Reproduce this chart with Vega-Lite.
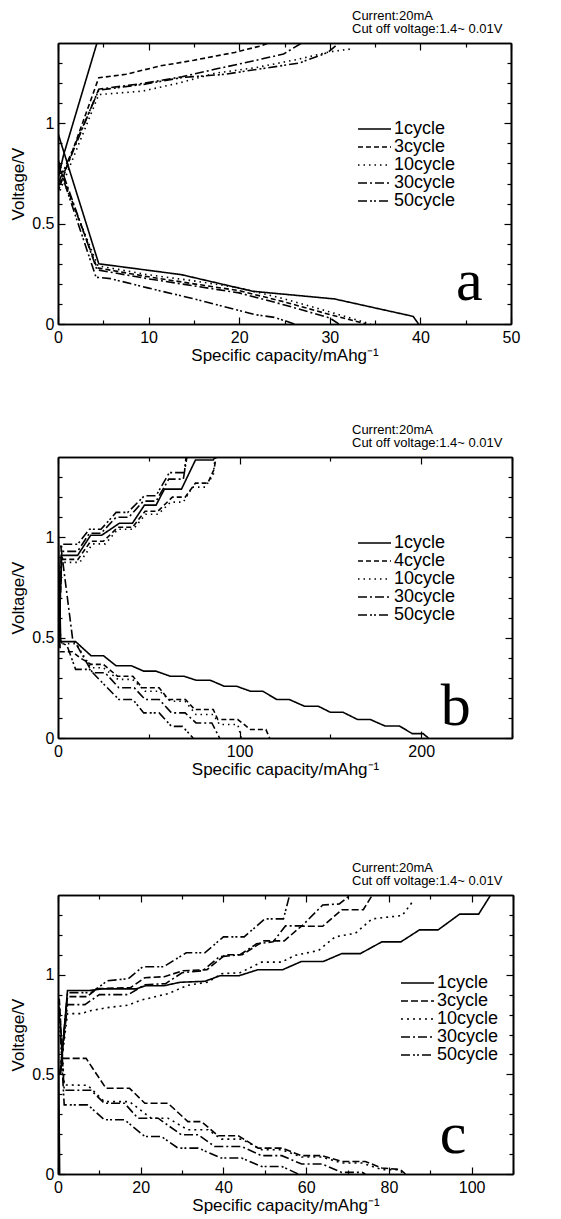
{
  "$schema": "https://vega.github.io/schema/vega-lite/v6.json",
  "padding": {"left": 9, "top": 10, "right": 5, "bottom": 5},
  "background": "white",
  "config": {
    "view": {"stroke": null},
    "axis": {"grid": false, "domainColor": "black", "domainWidth": 1.6, "tickColor": "black", "tickWidth": 1.2, "labelColor": "black", "labelFont": "Liberation Sans", "labelFontSize": 16, "titleFont": "Liberation Sans", "titleFontSize": 17, "titleFontWeight": "normal", "titleColor": "black", "labelFlush": false, "labelOverlap": false},
    "title": {"font": "Liberation Sans", "fontSize": 13, "fontWeight": "normal", "color": "black", "anchor": "start", "dx": 296, "lineHeight": 13, "offset": 6, "frame": "group"},
    "legend": {"orient": "none", "title": null, "symbolType": "stroke", "symbolSize": 1089, "symbolStrokeWidth": 1.6, "symbolStrokeColor": "black", "labelFontSize": 18, "labelFont": "Liberation Sans", "labelColor": "black", "labelOffset": 2, "rowPadding": 0, "clipHeight": 18, "padding": 0}
  },
  "resolve": {"scale": {"strokeDash": "independent"}, "legend": {"strokeDash": "independent"}},
  "datasets": {
    "a": [
      {"c":"1cycle","b":"d","x":0,"y":0.95},{"c":"1cycle","b":"d","x":4.5,"y":0.30},{"c":"1cycle","b":"d","x":13.6,"y":0.246},{"c":"1cycle","b":"d","x":21.5,"y":0.163},{"c":"1cycle","b":"d","x":30.5,"y":0.125},{"c":"1cycle","b":"d","x":39.2,"y":0.038},{"c":"1cycle","b":"d","x":39.8,"y":0},
      {"c":"1cycle","b":"c","x":0,"y":0.72},{"c":"1cycle","b":"c","x":0.6,"y":0.84},{"c":"1cycle","b":"c","x":4.3,"y":1.4},
      {"c":"3cycle","b":"d","x":0,"y":0.80},{"c":"3cycle","b":"d","x":4.3,"y":0.28},{"c":"3cycle","b":"d","x":10,"y":0.235},{"c":"3cycle","b":"d","x":15,"y":0.20},{"c":"3cycle","b":"d","x":20,"y":0.166},{"c":"3cycle","b":"d","x":25,"y":0.11},{"c":"3cycle","b":"d","x":30,"y":0.047},{"c":"3cycle","b":"d","x":34,"y":0},
      {"c":"3cycle","b":"c","x":0,"y":0.66},{"c":"3cycle","b":"c","x":4.5,"y":1.227},{"c":"3cycle","b":"c","x":7.5,"y":1.244},{"c":"3cycle","b":"c","x":11.3,"y":1.286},{"c":"3cycle","b":"c","x":15,"y":1.314},{"c":"3cycle","b":"c","x":19.5,"y":1.353},{"c":"3cycle","b":"c","x":22.5,"y":1.387},{"c":"3cycle","b":"c","x":23.2,"y":1.4},
      {"c":"10cycle","b":"d","x":0,"y":0.78},{"c":"10cycle","b":"d","x":4.4,"y":0.29},{"c":"10cycle","b":"d","x":10,"y":0.245},{"c":"10cycle","b":"d","x":15,"y":0.215},{"c":"10cycle","b":"d","x":20,"y":0.18},{"c":"10cycle","b":"d","x":25,"y":0.125},{"c":"10cycle","b":"d","x":30,"y":0.06},{"c":"10cycle","b":"d","x":34.5,"y":0},
      {"c":"10cycle","b":"c","x":0,"y":0.64},{"c":"10cycle","b":"c","x":4.5,"y":1.143},{"c":"10cycle","b":"c","x":9.3,"y":1.16},{"c":"10cycle","b":"c","x":13.3,"y":1.2},{"c":"10cycle","b":"c","x":17.4,"y":1.25},{"c":"10cycle","b":"c","x":21.8,"y":1.277},{"c":"10cycle","b":"c","x":26.6,"y":1.32},{"c":"10cycle","b":"c","x":30,"y":1.356},{"c":"10cycle","b":"c","x":32.3,"y":1.37},
      {"c":"30cycle","b":"d","x":0,"y":0.82},{"c":"30cycle","b":"d","x":4.3,"y":0.27},{"c":"30cycle","b":"d","x":10,"y":0.225},{"c":"30cycle","b":"d","x":15,"y":0.19},{"c":"30cycle","b":"d","x":20,"y":0.155},{"c":"30cycle","b":"d","x":25,"y":0.095},{"c":"30cycle","b":"d","x":30,"y":0.03},{"c":"30cycle","b":"d","x":31,"y":0},
      {"c":"30cycle","b":"c","x":0,"y":0.68},{"c":"30cycle","b":"c","x":4.5,"y":1.17},{"c":"30cycle","b":"c","x":9.6,"y":1.2},{"c":"30cycle","b":"c","x":13.7,"y":1.232},{"c":"30cycle","b":"c","x":17.4,"y":1.27},{"c":"30cycle","b":"c","x":21.5,"y":1.31},{"c":"30cycle","b":"c","x":24.9,"y":1.345},{"c":"30cycle","b":"c","x":26.9,"y":1.4},
      {"c":"50cycle","b":"d","x":0,"y":0.80},{"c":"50cycle","b":"d","x":4.2,"y":0.233},{"c":"50cycle","b":"d","x":5.8,"y":0.226},{"c":"50cycle","b":"d","x":9.9,"y":0.18},{"c":"50cycle","b":"d","x":15.4,"y":0.121},{"c":"50cycle","b":"d","x":21.7,"y":0.047},{"c":"50cycle","b":"d","x":23.9,"y":0.033},{"c":"50cycle","b":"d","x":26.1,"y":0},
      {"c":"50cycle","b":"c","x":0,"y":0.70},{"c":"50cycle","b":"c","x":4.5,"y":1.165},{"c":"50cycle","b":"c","x":9.6,"y":1.195},{"c":"50cycle","b":"c","x":13.7,"y":1.228},{"c":"50cycle","b":"c","x":18.4,"y":1.244},{"c":"50cycle","b":"c","x":23.2,"y":1.277},{"c":"50cycle","b":"c","x":26.6,"y":1.30},{"c":"50cycle","b":"c","x":29.8,"y":1.353},{"c":"50cycle","b":"c","x":31,"y":1.4}
    ],
    "b": [
      {"c":"1cycle","b":"d","x":0,"y":1.08},{"c":"1cycle","b":"d","x":1.5,"y":0.48},{"c":"1cycle","b":"d","x":9.7,"y":0.48},{"c":"1cycle","b":"d","x":18.2,"y":0.41},{"c":"1cycle","b":"d","x":25,"y":0.41},{"c":"1cycle","b":"d","x":32,"y":0.36},{"c":"1cycle","b":"d","x":40.4,"y":0.36},{"c":"1cycle","b":"d","x":47.2,"y":0.333},{"c":"1cycle","b":"d","x":54,"y":0.333},{"c":"1cycle","b":"d","x":61.7,"y":0.308},{"c":"1cycle","b":"d","x":69.3,"y":0.308},{"c":"1cycle","b":"d","x":76,"y":0.288},{"c":"1cycle","b":"d","x":83.8,"y":0.288},{"c":"1cycle","b":"d","x":91.5,"y":0.258},{"c":"1cycle","b":"d","x":98.3,"y":0.258},{"c":"1cycle","b":"d","x":106,"y":0.233},{"c":"1cycle","b":"d","x":112.8,"y":0.233},{"c":"1cycle","b":"d","x":120.4,"y":0.192},{"c":"1cycle","b":"d","x":127.3,"y":0.192},{"c":"1cycle","b":"d","x":135.8,"y":0.158},{"c":"1cycle","b":"d","x":143.4,"y":0.158},{"c":"1cycle","b":"d","x":150,"y":0.128},{"c":"1cycle","b":"d","x":157,"y":0.128},{"c":"1cycle","b":"d","x":165,"y":0.092},{"c":"1cycle","b":"d","x":172,"y":0.092},{"c":"1cycle","b":"d","x":180,"y":0.06},{"c":"1cycle","b":"d","x":188,"y":0.06},{"c":"1cycle","b":"d","x":195,"y":0.022},{"c":"1cycle","b":"d","x":201,"y":0.022},{"c":"1cycle","b":"d","x":204,"y":0},
      {"c":"1cycle","b":"c","x":0.3,"y":0.45},{"c":"1cycle","b":"c","x":2,"y":0.91},{"c":"1cycle","b":"c","x":10.8,"y":0.91},{"c":"1cycle","b":"c","x":18,"y":1.01},{"c":"1cycle","b":"c","x":24,"y":1.01},{"c":"1cycle","b":"c","x":33.8,"y":1.07},{"c":"1cycle","b":"c","x":41,"y":1.07},{"c":"1cycle","b":"c","x":47.6,"y":1.16},{"c":"1cycle","b":"c","x":54,"y":1.16},{"c":"1cycle","b":"c","x":58.6,"y":1.24},{"c":"1cycle","b":"c","x":68,"y":1.24},{"c":"1cycle","b":"c","x":75.7,"y":1.385},{"c":"1cycle","b":"c","x":85.5,"y":1.385},{"c":"1cycle","b":"c","x":86.5,"y":1.4},
      {"c":"4cycle","b":"d","x":0,"y":0.95},{"c":"4cycle","b":"d","x":1.2,"y":0.43},{"c":"4cycle","b":"d","x":8,"y":0.43},{"c":"4cycle","b":"d","x":12,"y":0.40},{"c":"4cycle","b":"d","x":18.2,"y":0.367},{"c":"4cycle","b":"d","x":25,"y":0.367},{"c":"4cycle","b":"d","x":32.7,"y":0.308},{"c":"4cycle","b":"d","x":41.2,"y":0.308},{"c":"4cycle","b":"d","x":46.3,"y":0.25},{"c":"4cycle","b":"d","x":55.7,"y":0.25},{"c":"4cycle","b":"d","x":60.8,"y":0.192},{"c":"4cycle","b":"d","x":70.2,"y":0.192},{"c":"4cycle","b":"d","x":75.3,"y":0.142},{"c":"4cycle","b":"d","x":85.5,"y":0.142},{"c":"4cycle","b":"d","x":88,"y":0.092},{"c":"4cycle","b":"d","x":99,"y":0.092},{"c":"4cycle","b":"d","x":106,"y":0.042},{"c":"4cycle","b":"d","x":114.5,"y":0.042},{"c":"4cycle","b":"d","x":116.5,"y":0},
      {"c":"4cycle","b":"c","x":0.3,"y":0.45},{"c":"4cycle","b":"c","x":2,"y":0.89},{"c":"4cycle","b":"c","x":11,"y":0.89},{"c":"4cycle","b":"c","x":18,"y":0.98},{"c":"4cycle","b":"c","x":25,"y":0.98},{"c":"4cycle","b":"c","x":33,"y":1.05},{"c":"4cycle","b":"c","x":41,"y":1.05},{"c":"4cycle","b":"c","x":48,"y":1.13},{"c":"4cycle","b":"c","x":55,"y":1.13},{"c":"4cycle","b":"c","x":63,"y":1.2},{"c":"4cycle","b":"c","x":70,"y":1.2},{"c":"4cycle","b":"c","x":75.7,"y":1.27},{"c":"4cycle","b":"c","x":82.5,"y":1.27},{"c":"4cycle","b":"c","x":86,"y":1.34},{"c":"4cycle","b":"c","x":87,"y":1.4},
      {"c":"10cycle","b":"d","x":0,"y":0.9},{"c":"10cycle","b":"d","x":1.5,"y":0.47},{"c":"10cycle","b":"d","x":10,"y":0.47},{"c":"10cycle","b":"d","x":18.2,"y":0.35},{"c":"10cycle","b":"d","x":25,"y":0.35},{"c":"10cycle","b":"d","x":33,"y":0.292},{"c":"10cycle","b":"d","x":41,"y":0.292},{"c":"10cycle","b":"d","x":48,"y":0.233},{"c":"10cycle","b":"d","x":56,"y":0.233},{"c":"10cycle","b":"d","x":62,"y":0.183},{"c":"10cycle","b":"d","x":70,"y":0.183},{"c":"10cycle","b":"d","x":76,"y":0.117},{"c":"10cycle","b":"d","x":85.5,"y":0.117},{"c":"10cycle","b":"d","x":89,"y":0.067},{"c":"10cycle","b":"d","x":99,"y":0.067},{"c":"10cycle","b":"d","x":101,"y":0},
      {"c":"10cycle","b":"c","x":0.3,"y":0.45},{"c":"10cycle","b":"c","x":2,"y":0.875},{"c":"10cycle","b":"c","x":12,"y":0.875},{"c":"10cycle","b":"c","x":19,"y":0.967},{"c":"10cycle","b":"c","x":26,"y":0.967},{"c":"10cycle","b":"c","x":33,"y":1.04},{"c":"10cycle","b":"c","x":41.4,"y":1.04},{"c":"10cycle","b":"c","x":48.3,"y":1.115},{"c":"10cycle","b":"c","x":55.1,"y":1.115},{"c":"10cycle","b":"c","x":62,"y":1.175},{"c":"10cycle","b":"c","x":69,"y":1.175},{"c":"10cycle","b":"c","x":74,"y":1.25},{"c":"10cycle","b":"c","x":81,"y":1.25},{"c":"10cycle","b":"c","x":85.5,"y":1.31},{"c":"10cycle","b":"c","x":86.5,"y":1.4},
      {"c":"30cycle","b":"d","x":1.5,"y":0.96},{"c":"30cycle","b":"d","x":8.1,"y":0.49},{"c":"30cycle","b":"d","x":10.5,"y":0.46},{"c":"30cycle","b":"d","x":19,"y":0.325},{"c":"30cycle","b":"d","x":26,"y":0.325},{"c":"30cycle","b":"d","x":33.5,"y":0.25},{"c":"30cycle","b":"d","x":42,"y":0.25},{"c":"30cycle","b":"d","x":48,"y":0.192},{"c":"30cycle","b":"d","x":55.7,"y":0.192},{"c":"30cycle","b":"d","x":62.5,"y":0.125},{"c":"30cycle","b":"d","x":70,"y":0.125},{"c":"30cycle","b":"d","x":76,"y":0.075},{"c":"30cycle","b":"d","x":84.7,"y":0.075},{"c":"30cycle","b":"d","x":89,"y":0},
      {"c":"30cycle","b":"c","x":0.3,"y":0.45},{"c":"30cycle","b":"c","x":2,"y":0.93},{"c":"30cycle","b":"c","x":10.8,"y":0.93},{"c":"30cycle","b":"c","x":17.3,"y":1.02},{"c":"30cycle","b":"c","x":23.7,"y":1.02},{"c":"30cycle","b":"c","x":32,"y":1.10},{"c":"30cycle","b":"c","x":39,"y":1.10},{"c":"30cycle","b":"c","x":47,"y":1.18},{"c":"30cycle","b":"c","x":54,"y":1.18},{"c":"30cycle","b":"c","x":61,"y":1.29},{"c":"30cycle","b":"c","x":69,"y":1.29},{"c":"30cycle","b":"c","x":71,"y":1.4},
      {"c":"50cycle","b":"d","x":0,"y":0.85},{"c":"50cycle","b":"d","x":1,"y":0.48},{"c":"50cycle","b":"d","x":5,"y":0.46},{"c":"50cycle","b":"d","x":9.7,"y":0.342},{"c":"50cycle","b":"d","x":17.4,"y":0.342},{"c":"50cycle","b":"d","x":25,"y":0.27},{"c":"50cycle","b":"d","x":33.5,"y":0.192},{"c":"50cycle","b":"d","x":41.2,"y":0.192},{"c":"50cycle","b":"d","x":47.2,"y":0.125},{"c":"50cycle","b":"d","x":55.7,"y":0.125},{"c":"50cycle","b":"d","x":62.5,"y":0.058},{"c":"50cycle","b":"d","x":68.5,"y":0.058},{"c":"50cycle","b":"d","x":74.4,"y":0},
      {"c":"50cycle","b":"c","x":0.3,"y":0.45},{"c":"50cycle","b":"c","x":2,"y":0.965},{"c":"50cycle","b":"c","x":10.8,"y":0.965},{"c":"50cycle","b":"c","x":17.3,"y":1.04},{"c":"50cycle","b":"c","x":23.7,"y":1.04},{"c":"50cycle","b":"c","x":32,"y":1.124},{"c":"50cycle","b":"c","x":38.4,"y":1.124},{"c":"50cycle","b":"c","x":47.6,"y":1.207},{"c":"50cycle","b":"c","x":54,"y":1.207},{"c":"50cycle","b":"c","x":61.3,"y":1.322},{"c":"50cycle","b":"c","x":69.6,"y":1.322},{"c":"50cycle","b":"c","x":70.5,"y":1.4}
    ],
    "c": [
      {"c":"1cycle","b":"d","x":0,"y":0.9},{"c":"1cycle","b":"d","x":0.4,"y":0},
      {"c":"1cycle","b":"c","x":0.6,"y":0.5},{"c":"1cycle","b":"c","x":2.3,"y":0.921},{"c":"1cycle","b":"c","x":7.7,"y":0.921},{"c":"1cycle","b":"c","x":10.7,"y":0.929},{"c":"1cycle","b":"c","x":18.9,"y":0.929},{"c":"1cycle","b":"c","x":21.2,"y":0.945},{"c":"1cycle","b":"c","x":25.7,"y":0.945},{"c":"1cycle","b":"c","x":29.5,"y":0.962},{"c":"1cycle","b":"c","x":35.5,"y":0.967},{"c":"1cycle","b":"c","x":39.2,"y":0.995},{"c":"1cycle","b":"c","x":43.8,"y":0.995},{"c":"1cycle","b":"c","x":48.3,"y":1.025},{"c":"1cycle","b":"c","x":54.3,"y":1.025},{"c":"1cycle","b":"c","x":58.8,"y":1.066},{"c":"1cycle","b":"c","x":64.1,"y":1.066},{"c":"1cycle","b":"c","x":68.6,"y":1.106},{"c":"1cycle","b":"c","x":73.1,"y":1.106},{"c":"1cycle","b":"c","x":78.3,"y":1.165},{"c":"1cycle","b":"c","x":82.9,"y":1.165},{"c":"1cycle","b":"c","x":87.4,"y":1.225},{"c":"1cycle","b":"c","x":91.9,"y":1.225},{"c":"1cycle","b":"c","x":97.1,"y":1.304},{"c":"1cycle","b":"c","x":101.7,"y":1.304},{"c":"1cycle","b":"c","x":104.6,"y":1.4},
      {"c":"3cycle","b":"d","x":0.3,"y":0.88},{"c":"3cycle","b":"d","x":1.1,"y":0.58},{"c":"3cycle","b":"d","x":6.8,"y":0.58},{"c":"3cycle","b":"d","x":11.6,"y":0.43},{"c":"3cycle","b":"d","x":17.3,"y":0.43},{"c":"3cycle","b":"d","x":21,"y":0.355},{"c":"3cycle","b":"d","x":26.6,"y":0.355},{"c":"3cycle","b":"d","x":31.4,"y":0.263},{"c":"3cycle","b":"d","x":34.7,"y":0.263},{"c":"3cycle","b":"d","x":38.7,"y":0.192},{"c":"3cycle","b":"d","x":43.6,"y":0.192},{"c":"3cycle","b":"d","x":48.4,"y":0.13},{"c":"3cycle","b":"d","x":54.1,"y":0.13},{"c":"3cycle","b":"d","x":58.9,"y":0.092},{"c":"3cycle","b":"d","x":63.8,"y":0.092},{"c":"3cycle","b":"d","x":68.6,"y":0.063},{"c":"3cycle","b":"d","x":74.3,"y":0.063},{"c":"3cycle","b":"d","x":78.3,"y":0.03},{"c":"3cycle","b":"d","x":82.8,"y":0.022},{"c":"3cycle","b":"d","x":84,"y":0},
      {"c":"3cycle","b":"c","x":0.5,"y":0.5},{"c":"3cycle","b":"c","x":2.3,"y":0.89},{"c":"3cycle","b":"c","x":7,"y":0.89},{"c":"3cycle","b":"c","x":9.5,"y":0.93},{"c":"3cycle","b":"c","x":17.5,"y":0.935},{"c":"3cycle","b":"c","x":21,"y":0.985},{"c":"3cycle","b":"c","x":25.7,"y":0.99},{"c":"3cycle","b":"c","x":30.2,"y":1.02},{"c":"3cycle","b":"c","x":36,"y":1.025},{"c":"3cycle","b":"c","x":40.4,"y":1.1},{"c":"3cycle","b":"c","x":44.5,"y":1.1},{"c":"3cycle","b":"c","x":49.8,"y":1.17},{"c":"3cycle","b":"c","x":54.7,"y":1.17},{"c":"3cycle","b":"c","x":58.8,"y":1.243},{"c":"3cycle","b":"c","x":64,"y":1.243},{"c":"3cycle","b":"c","x":68.6,"y":1.326},{"c":"3cycle","b":"c","x":73.8,"y":1.326},{"c":"3cycle","b":"c","x":76,"y":1.4},
      {"c":"10cycle","b":"d","x":0.3,"y":0.86},{"c":"10cycle","b":"d","x":1.5,"y":0.447},{"c":"10cycle","b":"d","x":7.2,"y":0.445},{"c":"10cycle","b":"d","x":11.2,"y":0.363},{"c":"10cycle","b":"d","x":17.3,"y":0.363},{"c":"10cycle","b":"d","x":22.5,"y":0.28},{"c":"10cycle","b":"d","x":26.6,"y":0.28},{"c":"10cycle","b":"d","x":31.4,"y":0.222},{"c":"10cycle","b":"d","x":36.3,"y":0.222},{"c":"10cycle","b":"d","x":39.5,"y":0.175},{"c":"10cycle","b":"d","x":44.4,"y":0.175},{"c":"10cycle","b":"d","x":49.2,"y":0.122},{"c":"10cycle","b":"d","x":54.1,"y":0.122},{"c":"10cycle","b":"d","x":58.9,"y":0.085},{"c":"10cycle","b":"d","x":63.8,"y":0.085},{"c":"10cycle","b":"d","x":68.6,"y":0.055},{"c":"10cycle","b":"d","x":73.5,"y":0.055},{"c":"10cycle","b":"d","x":78.3,"y":0.022},{"c":"10cycle","b":"d","x":82.4,"y":0.022},{"c":"10cycle","b":"d","x":83.6,"y":0},
      {"c":"10cycle","b":"c","x":0.5,"y":0.5},{"c":"10cycle","b":"c","x":2.3,"y":0.805},{"c":"10cycle","b":"c","x":5.6,"y":0.805},{"c":"10cycle","b":"c","x":8,"y":0.82},{"c":"10cycle","b":"c","x":12,"y":0.835},{"c":"10cycle","b":"c","x":16.9,"y":0.847},{"c":"10cycle","b":"c","x":20,"y":0.872},{"c":"10cycle","b":"c","x":26.6,"y":0.905},{"c":"10cycle","b":"c","x":31.4,"y":0.947},{"c":"10cycle","b":"c","x":36.3,"y":0.963},{"c":"10cycle","b":"c","x":39.5,"y":1.005},{"c":"10cycle","b":"c","x":44,"y":1.01},{"c":"10cycle","b":"c","x":49.2,"y":1.063},{"c":"10cycle","b":"c","x":54,"y":1.063},{"c":"10cycle","b":"c","x":57.3,"y":1.097},{"c":"10cycle","b":"c","x":63,"y":1.122},{"c":"10cycle","b":"c","x":67,"y":1.19},{"c":"10cycle","b":"c","x":71.9,"y":1.208},{"c":"10cycle","b":"c","x":75.9,"y":1.28},{"c":"10cycle","b":"c","x":83.2,"y":1.297},{"c":"10cycle","b":"c","x":85.6,"y":1.363},
      {"c":"30cycle","b":"d","x":0.3,"y":0.84},{"c":"30cycle","b":"d","x":1.5,"y":0.42},{"c":"30cycle","b":"d","x":8,"y":0.42},{"c":"30cycle","b":"d","x":11.2,"y":0.355},{"c":"30cycle","b":"d","x":16.1,"y":0.355},{"c":"30cycle","b":"d","x":19.3,"y":0.28},{"c":"30cycle","b":"d","x":24.2,"y":0.28},{"c":"30cycle","b":"d","x":29.8,"y":0.197},{"c":"30cycle","b":"d","x":33.9,"y":0.197},{"c":"30cycle","b":"d","x":37.9,"y":0.138},{"c":"30cycle","b":"d","x":44.4,"y":0.138},{"c":"30cycle","b":"d","x":49.2,"y":0.092},{"c":"30cycle","b":"d","x":54.1,"y":0.092},{"c":"30cycle","b":"d","x":58.9,"y":0.05},{"c":"30cycle","b":"d","x":63.8,"y":0.05},{"c":"30cycle","b":"d","x":68.6,"y":0.008},{"c":"30cycle","b":"d","x":73.5,"y":0.008},{"c":"30cycle","b":"d","x":74.3,"y":0},
      {"c":"30cycle","b":"c","x":0.5,"y":0.5},{"c":"30cycle","b":"c","x":2.3,"y":0.85},{"c":"30cycle","b":"c","x":6.5,"y":0.85},{"c":"30cycle","b":"c","x":10,"y":0.9},{"c":"30cycle","b":"c","x":17,"y":0.9},{"c":"30cycle","b":"c","x":21,"y":0.95},{"c":"30cycle","b":"c","x":26,"y":0.955},{"c":"30cycle","b":"c","x":30,"y":1.01},{"c":"30cycle","b":"c","x":35,"y":1.02},{"c":"30cycle","b":"c","x":39,"y":1.09},{"c":"30cycle","b":"c","x":44,"y":1.1},{"c":"30cycle","b":"c","x":48,"y":1.155},{"c":"30cycle","b":"c","x":52,"y":1.165},{"c":"30cycle","b":"c","x":55,"y":1.245},{"c":"30cycle","b":"c","x":59,"y":1.245},{"c":"30cycle","b":"c","x":64,"y":1.35},{"c":"30cycle","b":"c","x":68,"y":1.355},{"c":"30cycle","b":"c","x":70.7,"y":1.4},
      {"c":"50cycle","b":"d","x":0.3,"y":0.8},{"c":"50cycle","b":"d","x":1.5,"y":0.347},{"c":"50cycle","b":"d","x":7.2,"y":0.347},{"c":"50cycle","b":"d","x":11.2,"y":0.272},{"c":"50cycle","b":"d","x":16.1,"y":0.272},{"c":"50cycle","b":"d","x":21,"y":0.188},{"c":"50cycle","b":"d","x":25,"y":0.188},{"c":"50cycle","b":"d","x":29,"y":0.13},{"c":"50cycle","b":"d","x":33.9,"y":0.13},{"c":"50cycle","b":"d","x":39.5,"y":0.08},{"c":"50cycle","b":"d","x":44.4,"y":0.08},{"c":"50cycle","b":"d","x":49.2,"y":0.038},{"c":"50cycle","b":"d","x":54.1,"y":0.038},{"c":"50cycle","b":"d","x":58.1,"y":0},
      {"c":"50cycle","b":"c","x":0.5,"y":0.5},{"c":"50cycle","b":"c","x":2.3,"y":0.91},{"c":"50cycle","b":"c","x":8,"y":0.91},{"c":"50cycle","b":"c","x":12,"y":0.97},{"c":"50cycle","b":"c","x":17,"y":0.98},{"c":"50cycle","b":"c","x":20.5,"y":1.04},{"c":"50cycle","b":"c","x":25.5,"y":1.04},{"c":"50cycle","b":"c","x":31,"y":1.11},{"c":"50cycle","b":"c","x":35.5,"y":1.11},{"c":"50cycle","b":"c","x":40,"y":1.19},{"c":"50cycle","b":"c","x":45,"y":1.19},{"c":"50cycle","b":"c","x":50,"y":1.28},{"c":"50cycle","b":"c","x":54.5,"y":1.28},{"c":"50cycle","b":"c","x":56,"y":1.4}
    ]
  },
  "vconcat": [
    {
      "spacing": 61,
      "resolve": {"scale": {"strokeDash": "independent"}, "legend": {"strokeDash": "independent"}},
      "vconcat": [
        {
          "title": {"text": ["Current:20mA", "Cut off voltage:1.4~ 0.01V"], "dx": 294},
          "width": 453, "height": 281,
          "resolve": {"axis": {"x": "independent", "y": "independent"}},
          "layer": [
            {
              "data": {"name": "a"},
              "mark": {"type": "line", "color": "black", "strokeWidth": 1.6, "clip": true},
              "encoding": {
                "x": {"field": "x", "type": "quantitative", "scale": {"domain": [0, 50], "nice": false}, "axis": {"orient": "bottom", "values": [0, 10, 20, 30, 40, 50], "tickSize": -7, "labelPadding": 12, "title": "Specific capacity/mAhg⁻¹", "titlePadding": 2}},
                "y": {"field": "y", "type": "quantitative", "scale": {"domain": [0, 1.4], "nice": false}, "axis": {"orient": "left", "values": [0, 0.5, 1], "format": ".1~f", "tickSize": -7, "labelPadding": 11, "title": "Voltage/V", "titlePadding": 4}},
                "strokeDash": {"field": "c", "type": "nominal", "scale": {"domain": ["1cycle", "3cycle", "10cycle", "30cycle", "50cycle"], "range": [[1, 0], [5, 3], [1.5, 4], [9, 3, 2, 3], [9, 3, 2, 2, 2, 3]]}, "legend": {"legendX": 299, "legendY": 77}},
                "detail": {"field": "b"}
              }
            },
            {
              "data": {"values": [{"t": "a"}]},
              "mark": {"type": "text", "font": "Liberation Serif", "fontSize": 60, "align": "center", "baseline": "alphabetic", "color": "black"},
              "encoding": {
                "x": {"datum": 45.4, "type": "quantitative", "scale": {"domain": [0, 50], "nice": false}, "axis": {"orient": "top", "values": [0, 10, 20, 30, 40, 50], "tickSize": -7, "labels": false, "title": null}},
                "y": {"datum": 0.12, "type": "quantitative", "scale": {"domain": [0, 1.4], "nice": false}, "axis": {"orient": "right", "values": [0, 0.5, 1], "tickSize": -7, "labels": false, "title": null}},
                "text": {"field": "t"}
              }
            },
            {
              "data": {"values": [{"t": ""}]},
              "mark": {"type": "text"},
              "encoding": {
                "x": {"datum": 0, "type": "quantitative", "scale": {"domain": [0, 50], "nice": false}, "axis": {"orient": "bottom", "values": [5, 15, 25, 35, 45], "tickSize": -4, "labels": false, "title": null}},
                "y": {"datum": 0, "type": "quantitative", "scale": {"domain": [0, 1.4], "nice": false}, "axis": {"orient": "left", "values": [0.1, 0.2, 0.3, 0.4, 0.6, 0.7, 0.8, 0.9, 1.1, 1.2, 1.3], "tickSize": -4, "labels": false, "title": null}},
                "text": {"field": "t"}
              }
            },
            {
              "data": {"values": [{"t": ""}]},
              "mark": {"type": "text"},
              "encoding": {
                "x": {"datum": 0, "type": "quantitative", "scale": {"domain": [0, 50], "nice": false}, "axis": {"orient": "top", "values": [5, 15, 25, 35, 45], "tickSize": -4, "labels": false, "title": null}},
                "y": {"datum": 0, "type": "quantitative", "scale": {"domain": [0, 1.4], "nice": false}, "axis": {"orient": "right", "values": [0.1, 0.2, 0.3, 0.4, 0.6, 0.7, 0.8, 0.9, 1.1, 1.2, 1.3], "tickSize": -4, "labels": false, "title": null}},
                "text": {"field": "t"}
              }
            }
          ]
        },
        {
          "title": {"text": ["Current:20mA", "Cut off voltage:1.4~ 0.01V"], "dx": 294},
          "width": 454, "height": 281,
          "resolve": {"axis": {"x": "independent", "y": "independent"}},
          "layer": [
            {
              "data": {"name": "b"},
              "mark": {"type": "line", "color": "black", "strokeWidth": 1.6, "clip": true},
              "encoding": {
                "x": {"field": "x", "type": "quantitative", "scale": {"domain": [0, 250], "nice": false}, "axis": {"orient": "bottom", "values": [0, 100, 200], "tickSize": -7, "labelPadding": 12, "title": "Specific capacity/mAhg⁻¹", "titlePadding": 2}},
                "y": {"field": "y", "type": "quantitative", "scale": {"domain": [0, 1.4], "nice": false}, "axis": {"orient": "left", "values": [0, 0.5, 1], "format": ".1~f", "tickSize": -7, "labelPadding": 11, "title": "Voltage/V", "titlePadding": 4}},
                "strokeDash": {"field": "c", "type": "nominal", "scale": {"domain": ["1cycle", "4cycle", "10cycle", "30cycle", "50cycle"], "range": [[1, 0], [5, 3], [1.5, 4], [9, 3, 2, 3], [9, 3, 2, 2, 2, 3]]}, "legend": {"legendX": 299, "legendY": 77}},
                "detail": {"field": "b"}
              }
            },
            {
              "data": {"values": [{"t": "b"}]},
              "mark": {"type": "text", "font": "Liberation Serif", "fontSize": 60, "align": "center", "baseline": "alphabetic", "color": "black"},
              "encoding": {
                "x": {"datum": 219, "type": "quantitative", "scale": {"domain": [0, 250], "nice": false}, "axis": {"orient": "top", "values": [0, 100, 200], "tickSize": -7, "labels": false, "title": null}},
                "y": {"datum": 0.065, "type": "quantitative", "scale": {"domain": [0, 1.4], "nice": false}, "axis": {"orient": "right", "values": [0, 0.5, 1], "tickSize": -7, "labels": false, "title": null}},
                "text": {"field": "t"}
              }
            },
            {
              "data": {"values": [{"t": ""}]},
              "mark": {"type": "text"},
              "encoding": {
                "x": {"datum": 0, "type": "quantitative", "scale": {"domain": [0, 250], "nice": false}, "axis": {"orient": "bottom", "values": [50, 150, 250], "tickSize": -4, "labels": false, "title": null}},
                "y": {"datum": 0, "type": "quantitative", "scale": {"domain": [0, 1.4], "nice": false}, "axis": {"orient": "left", "values": [0.1, 0.2, 0.3, 0.4, 0.6, 0.7, 0.8, 0.9, 1.1, 1.2, 1.3], "tickSize": -4, "labels": false, "title": null}},
                "text": {"field": "t"}
              }
            },
            {
              "data": {"values": [{"t": ""}]},
              "mark": {"type": "text"},
              "encoding": {
                "x": {"datum": 0, "type": "quantitative", "scale": {"domain": [0, 250], "nice": false}, "axis": {"orient": "top", "values": [50, 150, 250], "tickSize": -4, "labels": false, "title": null}},
                "y": {"datum": 0, "type": "quantitative", "scale": {"domain": [0, 1.4], "nice": false}, "axis": {"orient": "right", "values": [0.1, 0.2, 0.3, 0.4, 0.6, 0.7, 0.8, 0.9, 1.1, 1.2, 1.3], "tickSize": -4, "labels": false, "title": null}},
                "text": {"field": "t"}
              }
            }
          ]
        }
      ]
    },
    {
      "title": {"text": ["Current:20mA", "Cut off voltage:1.4~ 0.01V"], "dx": 294},
      "width": 455, "height": 279,
      "resolve": {"axis": {"x": "independent", "y": "independent"}},
      "layer": [
        {
          "data": {"name": "c"},
          "mark": {"type": "line", "color": "black", "strokeWidth": 1.6, "clip": true},
          "encoding": {
            "x": {"field": "x", "type": "quantitative", "scale": {"domain": [0, 110], "nice": false}, "axis": {"orient": "bottom", "values": [0, 20, 40, 60, 80, 100], "tickSize": -7, "labelPadding": 12, "title": "Specific capacity/mAhg⁻¹", "titlePadding": 2}},
            "y": {"field": "y", "type": "quantitative", "scale": {"domain": [0, 1.4], "nice": false}, "axis": {"orient": "left", "values": [0, 0.5, 1], "format": ".1~f", "tickSize": -7, "labelPadding": 11, "title": "Voltage/V", "titlePadding": 4}},
            "strokeDash": {"field": "c", "type": "nominal", "scale": {"domain": ["1cycle", "3cycle", "10cycle", "30cycle", "50cycle"], "range": [[1, 0], [7, 3], [2, 4], [9, 3, 2, 3], [9, 3, 2, 2, 2, 3]]}, "legend": {"legendX": 342, "legendY": 79}},
            "detail": {"field": "b"}
          }
        },
        {
          "data": {"values": [{"t": "c"}]},
          "mark": {"type": "text", "font": "Liberation Serif", "fontSize": 60, "align": "center", "baseline": "alphabetic", "color": "black"},
          "encoding": {
            "x": {"datum": 95.5, "type": "quantitative", "scale": {"domain": [0, 110], "nice": false}, "axis": {"orient": "top", "values": [0, 20, 40, 60, 80, 100], "tickSize": -7, "labels": false, "title": null}},
            "y": {"datum": 0.105, "type": "quantitative", "scale": {"domain": [0, 1.4], "nice": false}, "axis": {"orient": "right", "values": [0, 0.5, 1], "tickSize": -7, "labels": false, "title": null}},
            "text": {"field": "t"}
          }
        },
        {
          "data": {"values": [{"t": ""}]},
          "mark": {"type": "text"},
          "encoding": {
            "x": {"datum": 0, "type": "quantitative", "scale": {"domain": [0, 110], "nice": false}, "axis": {"orient": "bottom", "values": [10, 30, 50, 70, 90, 110], "tickSize": -4, "labels": false, "title": null}},
            "y": {"datum": 0, "type": "quantitative", "scale": {"domain": [0, 1.4], "nice": false}, "axis": {"orient": "left", "values": [0.1, 0.2, 0.3, 0.4, 0.6, 0.7, 0.8, 0.9, 1.1, 1.2, 1.3], "tickSize": -4, "labels": false, "title": null}},
            "text": {"field": "t"}
          }
        },
        {
          "data": {"values": [{"t": ""}]},
          "mark": {"type": "text"},
          "encoding": {
            "x": {"datum": 0, "type": "quantitative", "scale": {"domain": [0, 110], "nice": false}, "axis": {"orient": "top", "values": [10, 30, 50, 70, 90, 110], "tickSize": -4, "labels": false, "title": null}},
            "y": {"datum": 0, "type": "quantitative", "scale": {"domain": [0, 1.4], "nice": false}, "axis": {"orient": "right", "values": [0.1, 0.2, 0.3, 0.4, 0.6, 0.7, 0.8, 0.9, 1.1, 1.2, 1.3], "tickSize": -4, "labels": false, "title": null}},
            "text": {"field": "t"}
          }
        }
      ]
    }
  ],
  "spacing": 85
}
